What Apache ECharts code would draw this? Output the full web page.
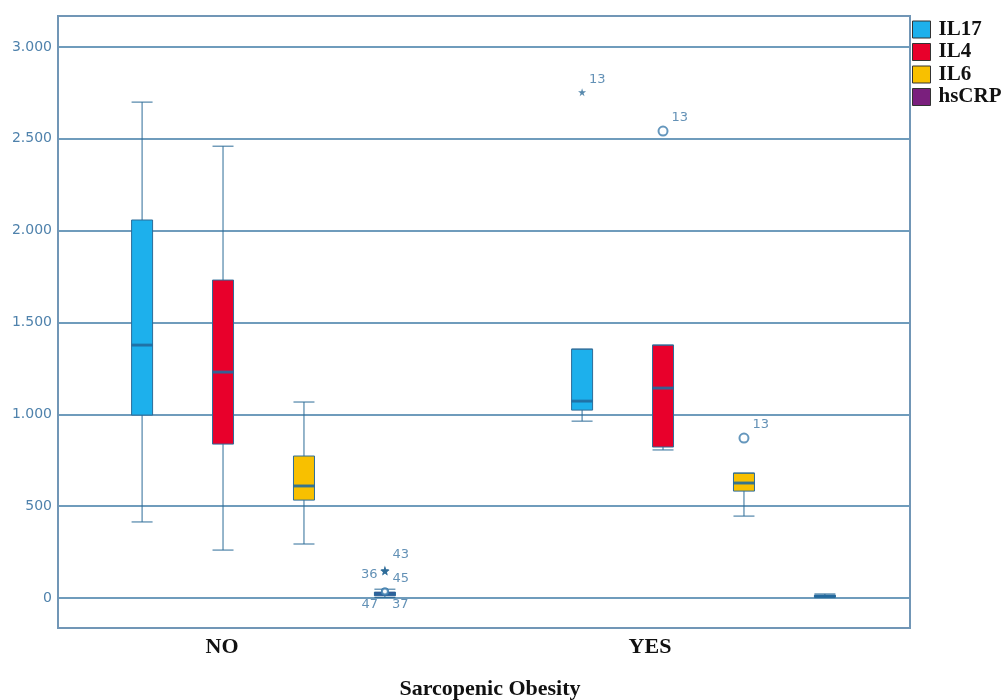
<!DOCTYPE html>
<html>
<head>
<meta charset="utf-8">
<script src="https://cdn.jsdelivr.net/npm/echarts@6/dist/echarts.min.js"></script>
<style>
html, body { margin: 0; padding: 0; background: #fff; }
#main { width: 1005px; height: 700px; }
</style>
</head>
<body>
<div id="main"></div>
<script>
// categories and variables
var groups = ['NO', 'YES']
var vars = ['IL17', 'IL4', 'IL6', 'hsCRP']
var colors = ['#1DB0EC', '#E8002B', '#F8C000', '#7A1F7D']
var yTicks = [0, 500, 1000, 1500, 2000, 2500, 3000]

// box values [min, Q1, median, Q3, max], one row per variable
var noBoxes = [
  [414, 996, 1377, 2058, 2700],
  [261, 838, 1230, 1731, 2460],
  [294, 533, 610, 773, 1067],
  [3, 12, 22, 32, 48]
]
var yesBoxes = [
  [963, 1023, 1072, 1355, 1355],
  [806, 822, 1143, 1377, 1377],
  [446, 582, 626, 680, 680],
  [2, 5, 10, 15, 22]
]

// outliers: [variable index, value, case label]
var noStars = [[3, 152, '43'], [3, 147, '36'], [3, 147, '45']]
var noCircles = [[3, 35, '47'], [3, 35, '37']]
var yesStars = [[0, 2754, '13']]
var yesCircles = [[1, 2542, '13'], [2, 871, '13']]

var STAR = 'path://M50,0 L61,35 L98,35 L68,57 L79,91 L50,70 L21,91 L32,57 L2,35 L39,35 Z'
var LINE = '#2D6C98'
var TXT = '#3C76A4'

// same offsets as the boxplot layout uses for 4 series in one band
var band = 379
var avail = band * 0.8 - 2
var gap = avail / 4 * 0.3
var bw = (avail - gap * 3) / 4
var offsets = []
for (var i = 0; i < 4; i++) offsets.push(bw / 2 - avail / 2 + i * (gap + bw))

var series = []
var boxSets = [noBoxes, yesBoxes]
for (var g = 0; g < 2; g++) {
  for (var v = 0; v < 4; v++) {
    series.push({
      name: vars[v],
      type: 'boxplot',
      xAxisIndex: g + 1,
      yAxisIndex: g + 1,
      boxWidth: [21, 21],
      itemStyle: { color: colors[v], borderColor: LINE, borderWidth: 1 },
      data: [boxSets[g][v]],
      z: 3
    })
    // thicker median bar like the original
    series.push({
      type: 'scatter',
      xAxisIndex: g + 1,
      yAxisIndex: g + 1,
      symbol: 'rect',
      symbolSize: [21, 3],
      symbolOffset: [offsets[v], 0],
      itemStyle: { color: '#1F6CA0' },
      silent: true,
      data: [[0, boxSets[g][v][2]]],
      z: 4
    })
  }
}

function outlierSeries(list, g, symbol, size, labelFn) {
  list.forEach(function (o, k) {
    var lab = labelFn(k)
    series.push({
      type: 'scatter',
      xAxisIndex: g + 1,
      yAxisIndex: g + 1,
      symbol: symbol,
      symbolSize: size,
      symbolOffset: [offsets[o[0]], 0],
      itemStyle: symbol === 'emptyCircle'
        ? { color: '#3E7DAC', borderColor: '#3E7DAC', borderWidth: 1.5 }
        : { color: '#2D6C98' },
      label: {
        show: true,
        formatter: o[2],
        position: lab.pos,
        distance: 3,
        offset: lab.off,
        color: TXT,
        fontSize: 13,
        fontFamily: 'DejaVu Sans'
      },
      data: [[0, o[1]]],
      z: 5
    })
  })
}

outlierSeries(noStars, 0, STAR, 9, function (k) {
  return [
    { pos: 'right', off: [0, -15] },
    { pos: 'left', off: [0, 4] },
    { pos: 'right', off: [0, 8] }
  ][k]
})
outlierSeries(noCircles, 0, 'emptyCircle', 6, function (k) {
  return [
    { pos: 'left', off: [0, 13] },
    { pos: 'right', off: [0, 13] }
  ][k]
})
outlierSeries(yesStars, 1, STAR, 8, function () {
  return { pos: 'right', off: [0, -13] }
})
outlierSeries(yesCircles, 1, 'emptyCircle', 9, function () {
  return { pos: 'right', off: [0, -13] }
})

var catLabel = {
  fontFamily: 'Liberation Serif',
  fontWeight: 'bold',
  fontSize: 22,
  color: '#111',
  margin: 38
}

var option = {
  animation: false,
  backgroundColor: '#fff',
  title: {
    text: 'Sarcopenic Obesity',
    left: 485,
    top: 673,
    textAlign: 'center',
    textStyle: { fontFamily: 'Liberation Serif', fontWeight: 'bold', fontSize: 22, color: '#111' }
  },
  legend: {
    orient: 'vertical',
    left: 912,
    top: 19,
    padding: 0,
    itemWidth: 18,
    itemHeight: 17,
    itemGap: 1.5,
    selectedMode: false,
    textStyle: { fontFamily: 'Liberation Serif', fontWeight: 'bold', fontSize: 21, color: '#111', padding: [0, 0, 0, 3] },
    data: vars.map(function (n, i) {
      return { name: n, icon: 'rect', itemStyle: { color: colors[i], borderColor: '#333', borderWidth: 1 } }
    })
  },
  grid: [
    { left: 58, right: 95, top: 47, bottom: 102 },
    { left: 74, width: band, top: 47, bottom: 102 },
    { left: 514, width: band, top: 47, bottom: 102 }
  ],
  xAxis: [
    { type: 'value', gridIndex: 0, min: 0, max: 1, show: false },
    {
      type: 'category', gridIndex: 1, data: [groups[0]],
      axisLine: { show: false }, axisTick: { show: false },
      axisLabel: Object.assign({ padding: [0, 83, 0, 0] }, catLabel)
    },
    {
      type: 'category', gridIndex: 2, data: [groups[1]],
      axisLine: { show: false }, axisTick: { show: false },
      axisLabel: Object.assign({ padding: [0, 107, 0, 0] }, catLabel)
    }
  ],
  yAxis: [
    {
      type: 'value', gridIndex: 0, min: yTicks[0], max: yTicks[yTicks.length - 1], interval: 500,
      axisLine: { show: false }, axisTick: { show: false },
      splitLine: { lineStyle: { color: '#3F7BA6', width: 1.5 } },
      axisLabel: {
        color: '#4F82AC', fontSize: 14, fontFamily: 'DejaVu Sans', margin: 6,
        formatter: function (val) { return String(val).replace(/\B(?=(\d{3})+(?!\d))/g, '.') }
      }
    },
    { type: 'value', gridIndex: 1, min: 0, max: 3000, show: false },
    { type: 'value', gridIndex: 2, min: 0, max: 3000, show: false }
  ],
  graphic: [{
    type: 'rect',
    shape: { x: 58, y: 16, width: 852, height: 612 },
    style: { fill: 'none', stroke: '#7196B6', lineWidth: 2 },
    silent: true,
    z: 1
  }],
  series: series
}

var chart = echarts.init(document.getElementById('main'))
chart.setOption(option)
</script>
</body>
</html>
